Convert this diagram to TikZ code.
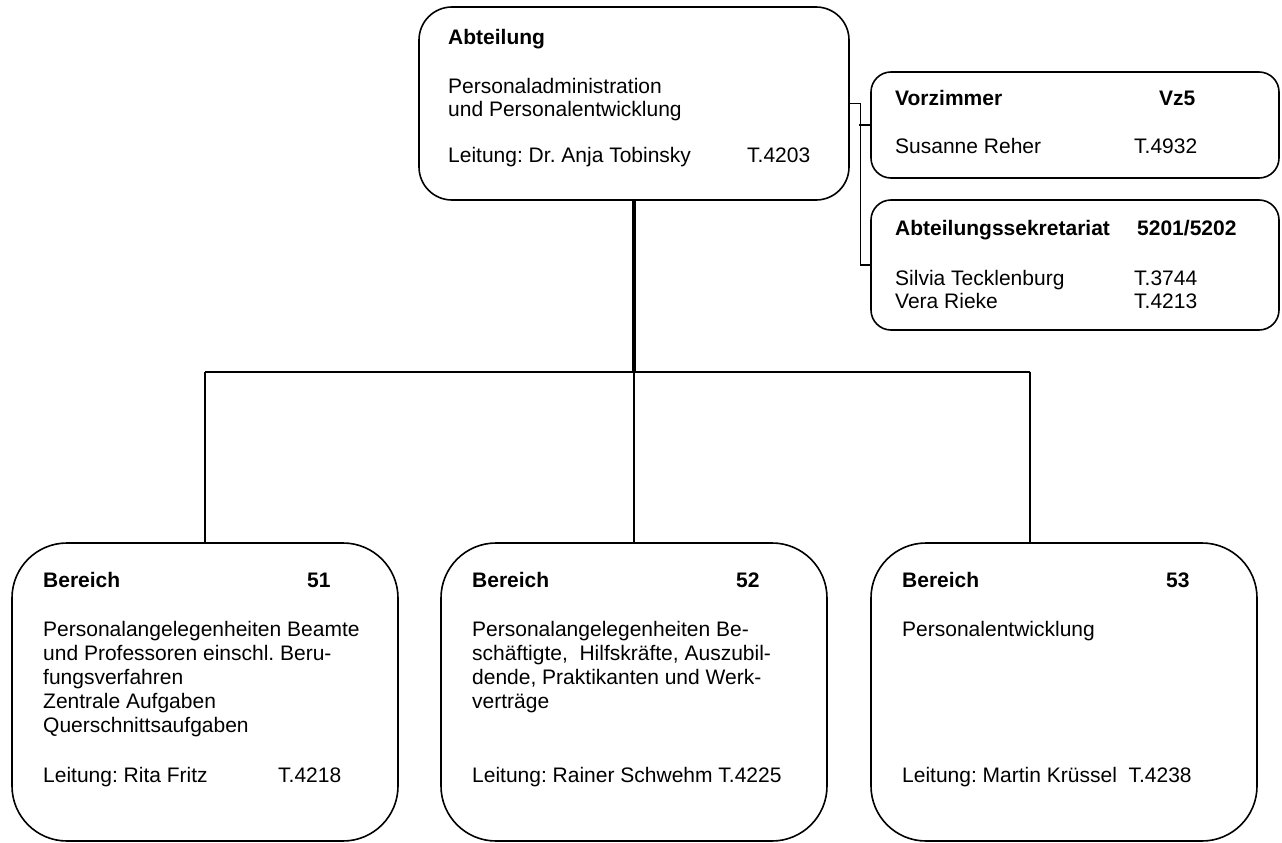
\documentclass[tikz,border=0pt]{standalone}
\usepackage{fontspec}
\setmainfont{Liberation Sans}
\frenchspacing
\begin{document}
\begin{tikzpicture}[x=1pt, y=-1pt,
    box/.style={draw, line width=1.6pt, rectangle, inner sep=0pt},
    txt/.style={anchor=base west, inner sep=0pt, font=\fontsize{21}{24}\selectfont},
    hd/.style={txt, font=\fontsize{21}{24}\selectfont\bfseries},
    conn/.style={line width=1.3pt}]
  \useasboundingbox (0,0) rectangle (1282,843);

  % boxes
  \node[box, rounded corners=33pt, minimum width=430pt, minimum height=193pt] (abt) at (634,103.5) {};
  \node[box, rounded corners=20pt, minimum width=408pt, minimum height=106pt] (vz) at (1075,125) {};
  \node[box, rounded corners=20pt, minimum width=408pt, minimum height=130pt] (sek) at (1075,265) {};
  \node[box, rounded corners=55pt, minimum width=386pt, minimum height=298pt] (b51) at (205,692) {};
  \node[box, rounded corners=55pt, minimum width=386pt, minimum height=298pt] (b52) at (634,692) {};
  \node[box, rounded corners=55pt, minimum width=386pt, minimum height=298pt] (b53) at (1064,692) {};

  % connectors
  \coordinate (hub) at (634,372);
  \coordinate (left) at (205,372);
  \coordinate (right) at (1030,372);
  \draw[line width=3.3pt] (abt.south) -- (hub);
  \draw[conn] (left) -- (right);
  \draw[conn] (left) -- (b51.north);
  \draw[conn] (hub) -- (b52.north);
  \draw[conn] (right) -- (right |- b53.north);
  \draw[conn] (abt.east) -- ++(11,0) |- (sek.west);
  \draw[conn] (vz.west) -- ++(-11,0);

  % Abteilung
  \node[hd] (abt-h) at (448,45) {Abteilung};
  \node[txt] (abt-1) at (448,93) {Personaladministration};
  \node[txt] (abt-2) at (448,116) {und Personalentwicklung};
  \node[txt] (abt-l) at (448,162) {Leitung: Dr. Anja Tobinsky};
  \node[txt] (abt-t) at (747,162) {T.4203};

  % Vorzimmer
  \node[hd] (vz-h) at (895,105) {Vorzimmer};
  \node[hd] (vz-n) at (1159,105) {Vz5};
  \node[txt] (vz-1) at (895,153) {Susanne Reher};
  \node[txt] (vz-t) at (1134,153) {T.4932};

  % Sekretariat
  \node[hd] (sek-h) at (895,235) {Abteilungssekretariat};
  \node[hd] (sek-n) at (1137,235) {5201/5202};
  \node[txt] (sek-1) at (895,285) {Silvia Tecklenburg};
  \node[txt] (sek-t1) at (1134,285) {T.3744};
  \node[txt] (sek-2) at (895,308) {Vera Rieke};
  \node[txt] (sek-t2) at (1134,308) {T.4213};

  % Bereich 51
  \node[hd] (b51-h) at (43,587) {Bereich};
  \node[hd] (b51-n) at (307,587) {51};
  \node[txt] (b51-1) at (43,636) {Personalangelegenheiten Beamte};
  \node[txt] (b51-2) at (43,660) {und Professoren einschl. Beru-};
  \node[txt] (b51-3) at (43,684) {fungsverfahren};
  \node[txt] (b51-4) at (43,708) {Zentrale Aufgaben};
  \node[txt] (b51-5) at (43,732) {Querschnittsaufgaben};
  \node[txt] (b51-l) at (43,782) {Leitung: Rita Fritz};
  \node[txt] (b51-t) at (278,782) {T.4218};

  % Bereich 52
  \node[hd] (b52-h) at (472,587) {Bereich};
  \node[hd] (b52-n) at (736,587) {52};
  \node[txt] (b52-1) at (472,636) {Personalangelegenheiten Be-};
  \node[txt] (b52-2) at (472,660) {schäftigte,\ \ Hilfskräfte, Auszubil-};
  \node[txt] (b52-3) at (472,684) {dende, Praktikanten und Werk-};
  \node[txt] (b52-4) at (472,708) {verträge};
  \node[txt] (b52-l) at (472,782) {Leitung: Rainer Schwehm T.4225};

  % Bereich 53
  \node[hd] (b53-h) at (902,587) {Bereich};
  \node[hd] (b53-n) at (1166,587) {53};
  \node[txt] (b53-1) at (902,636) {Personalentwicklung};
  \node[txt] (b53-l) at (902,782) {Leitung: Martin Krüssel\ \ T.4238};
\end{tikzpicture}
\end{document}
